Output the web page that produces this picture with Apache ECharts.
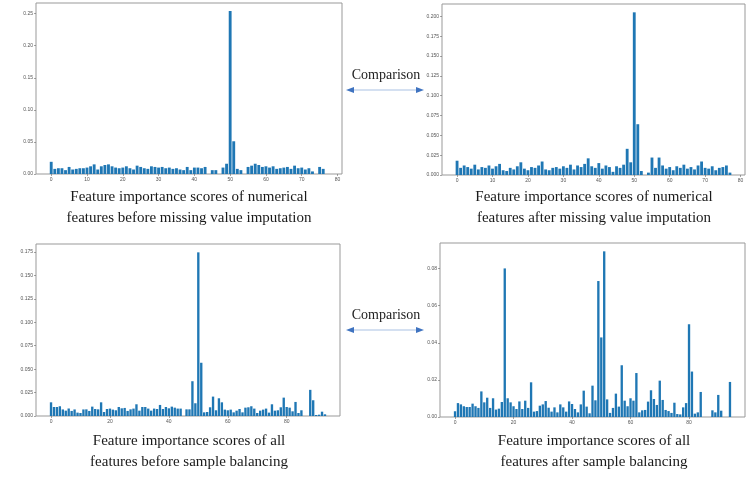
<!DOCTYPE html>
<html>
<head>
<meta charset="utf-8">
<script src="https://cdn.jsdelivr.net/npm/echarts@6/dist/echarts.min.js"></script>
<style>
  html, body { margin: 0; padding: 0; background: #fff; }
  #main { width: 750px; height: 481px; }
</style>
</head>
<body>
<div id="main"></div>
<script>
// numerical features, before imputation
var numBefore = [
  0.019,0.008,0.009,0.009,0.006,0.011,0.007,0.008,0.009,0.009,
  0.010,0.012,0.015,0.007,0.012,0.014,0.015,0.012,0.010,0.009,
  0.010,0.012,0.009,0.007,0.013,0.011,0.009,0.008,0.012,0.011,
  0.010,0.011,0.009,0.010,0.008,0.009,0.007,0.006,0.011,0.006,
  0.010,0.010,0.009,0.011,0,0.006,0.006,0,0.010,0.016,
  0.254,0.051,0.008,0.006,0,0.011,0.013,0.016,0.014,0.011,
  0.012,0.010,0.012,0.008,0.009,0.010,0.011,0.008,0.013,0.009,
  0.010,0.007,0.009,0.004,0,0.011,0.008,0
];
// numerical features, after imputation
var numAfter = [
  0.018,0.009,0.012,0.010,0.008,0.013,0.007,0.010,0.009,0.012,
  0.008,0.011,0.014,0.006,0.005,0.009,0.007,0.011,0.016,0.008,
  0.006,0.010,0.009,0.012,0.017,0.007,0.006,0.009,0.010,0.008,
  0.011,0.009,0.013,0.007,0.012,0.010,0.014,0.021,0.011,0.009,
  0.015,0.008,0.012,0.010,0.004,0.011,0.009,0.013,0.033,0.016,
  0.205,0.064,0.005,0,0.003,0.022,0.009,0.022,0.012,0.008,
  0.010,0.006,0.011,0.009,0.013,0.008,0.010,0.007,0.012,0.017,
  0.009,0.008,0.011,0.006,0.009,0.010,0.012,0.003
];
// all features, before balancing
var allBefore = [
  0.0146,0.0096,0.0096,0.0104,0.0070,0.0057,0.0080,0.0054,0.0070,0.0036,
  0.0032,0.0070,0.0071,0.0054,0.0100,0.0075,0.0071,0.0146,0.0043,0.0075,
  0.0079,0.0068,0.0061,0.0096,0.0082,0.0086,0.0054,0.0071,0.0079,0.0125,
  0.0057,0.0096,0.0096,0.0079,0.0057,0.0079,0.0075,0.0118,0.0075,0.0096,
  0.0082,0.0100,0.0089,0.0079,0.0079,0,0.0071,0.0071,0.0371,0.0136,
  0.1746,0.0568,0.0039,0.0043,0.0093,0.0207,0.0061,0.0189,0.0146,0.0068,
  0.0061,0.0068,0.0039,0.0057,0.0075,0.0039,0.0089,0.0093,0.0104,0.0079,
  0.0032,0.0057,0.0068,0.0079,0.0036,0.0125,0.0057,0.0061,0.0093,0.0196,
  0.0096,0.0089,0.0050,0.0150,0.0032,0.0061,0,0,0.0279,0.0168,
  0.0011,0.0014,0.0046,0.0018
];
// all features, after balancing
var allAfter = [
  0.0031,0.0075,0.0068,0.0058,0.0054,0.0054,0.0072,0.0058,0.0049,0.0138,
  0.0079,0.0104,0.0049,0.0101,0.0040,0.0045,0.0081,0.0801,0.0101,0.0079,
  0.0058,0.0043,0.0084,0.0043,0.0088,0.0049,0.0187,0.0029,0.0032,0.0061,
  0.0068,0.0086,0.0050,0.0029,0.0052,0.0025,0.0068,0.0052,0.0029,0.0084,
  0.0070,0.0043,0.0025,0.0068,0.0142,0.0056,0.0020,0.0169,0.0090,0.0733,
  0.0429,0.0893,0.0095,0.0022,0.0049,0.0126,0.0056,0.0279,0.0088,0.0058,
  0.0101,0.0088,0.0237,0.0025,0.0036,0.0038,0.0083,0.0144,0.0097,0.0065,
  0.0196,0.0092,0.0038,0.0032,0.0022,0.0077,0.0016,0.0014,0.0052,0.0075,
  0.0500,0.0245,0.0018,0.0025,0.0135,0,0,0,0.0036,0.0025,
  0.0119,0.0034,0,0,0.0189
];

var xTicksA = [0,10,20,30,40,50,60,70,80];
var xTicksB = [0,20,40,60,80];
var yTicks1 = [0,0.05,0.10,0.15,0.20,0.25];
var yTicks2 = [0,0.025,0.05,0.075,0.1,0.125,0.15,0.175,0.2];
var yTicks3 = [0,0.025,0.05,0.075,0.1,0.125,0.15,0.175];
var yTicks4 = [0,0.02,0.04,0.06,0.08];

var captions = [
  ['Feature importance scores of numerical', 'features before missing value imputation'],
  ['Feature importance scores of numerical', 'features after missing value imputation'],
  ['Feature importance scores of all', 'features before sample balancing'],
  ['Feature importance scores of all', 'features after sample balancing']
];

var barColor = '#1f77b4';

function pairs(arr) {
  var out = [];
  for (var i = 0; i < arr.length; i++) out.push([i, arr[i]]);
  return out;
}

function xAx(idx, min, max, ticks) {
  return {
    type: 'value', gridIndex: idx, min: min, max: max,
    splitLine: {show: false},
    axisLine: {show: false, onZero: false},
    axisTick: {show: true, length: 2, customValues: ticks, lineStyle: {color: '#666', width: 0.6}},
    axisLabel: {show: true, customValues: ticks, fontSize: 5, color: '#555', margin: 3}
  };
}
function yAx(idx, max, ticks, dec) {
  return {
    type: 'value', gridIndex: idx, min: 0, max: max,
    splitLine: {show: false},
    axisLine: {show: false, onZero: false},
    axisTick: {show: true, length: 2, customValues: ticks, lineStyle: {color: '#666', width: 0.6}},
    axisLabel: {show: true, customValues: ticks, fontSize: 5, color: '#555', margin: 3,
      formatter: function (v) { return v.toFixed(dec); }}
  };
}
function bars(idx, arr) {
  return {
    type: 'bar', xAxisIndex: idx, yAxisIndex: idx,
    data: pairs(arr), barWidth: '80%',
    itemStyle: {color: barColor},
    silent: true
  };
}

var gridBox = {show: true, borderColor: '#999', borderWidth: 1, backgroundColor: '#fff'};
var chart = echarts.init(document.getElementById('main'));

var graphics = [];
var capX = [189, 594, 189, 594];
var capY = [197, 197, 441, 441];
captions.forEach(function (c, k) {
  c.forEach(function (line, j) {
    graphics.push({
      type: 'text', x: capX[k], y: capY[k] + j * 21,
      style: {text: line, font: '15px "Liberation Serif"', fill: '#1a1a1a',
        textAlign: 'center', textVerticalAlign: 'middle'}
    });
  });
});
[75, 315].forEach(function (ty) {
  graphics.push({
    type: 'text', x: 386, y: ty,
    style: {text: 'Comparison', font: '14px "Liberation Serif"', fill: '#222',
      textAlign: 'center', textVerticalAlign: 'middle'}
  });
  graphics.push({
    type: 'line', shape: {x1: 352, y1: ty + 15, x2: 418, y2: ty + 15},
    style: {stroke: '#a9c2e3', lineWidth: 1.2}
  });
  graphics.push({
    type: 'polygon', shape: {points: [[346, ty + 15], [354, ty + 12], [354, ty + 18]]},
    style: {fill: '#3f73c0'}
  });
  graphics.push({
    type: 'polygon', shape: {points: [[424, ty + 15], [416, ty + 12], [416, ty + 18]]},
    style: {fill: '#3f73c0'}
  });
});

chart.setOption({
  animation: false,
  backgroundColor: '#fff',
  grid: [
    Object.assign({left: 36, top: 3, width: 306, height: 171}, gridBox),
    Object.assign({left: 442, top: 4, width: 303, height: 171}, gridBox),
    Object.assign({left: 36, top: 244, width: 304, height: 172}, gridBox),
    Object.assign({left: 440, top: 243, width: 305, height: 174}, gridBox)
  ],
  xAxis: [
    xAx(0, -4.25, 81.25, xTicksA),
    xAx(1, -4.25, 81.25, xTicksA),
    xAx(2, -5.1, 98.1, xTicksB),
    xAx(3, -5.14, 99.14, xTicksB)
  ],
  yAxis: [
    yAx(0, 0.2665, yTicks1, 2),
    yAx(1, 0.2155, yTicks2, 3),
    yAx(2, 0.1835, yTicks3, 3),
    yAx(3, 0.0938, yTicks4, 2)
  ],
  series: [
    bars(0, numBefore),
    bars(1, numAfter),
    bars(2, allBefore),
    bars(3, allAfter)
  ],
  graphic: graphics
});
</script>
</body>
</html>
